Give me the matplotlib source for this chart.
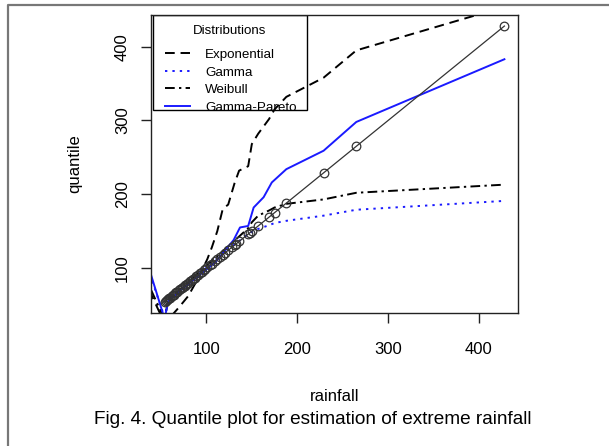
import numpy as np
import matplotlib.pyplot as plt
from matplotlib.lines import Line2D
from matplotlib.patches import Rectangle

plt.rcParams['font.family'] = ['Liberation Sans', 'DejaVu Sans']

# observed annual maximum rainfall (sorted) -- plotted against itself
rainfall = [54, 55, 57, 58, 59, 60, 62, 63, 64, 66, 67, 68, 70, 71, 73, 74,
            76, 77, 79, 80, 82, 84, 85, 87, 89, 91, 93, 95, 97, 99, 101, 104,
            106, 109, 112, 115, 118, 121, 124, 128, 131, 133, 136, 146, 148,
            150, 157, 169, 175, 188, 229, 265, 428]

# fitted quantiles
exp_x = [30, 54, 60, 70, 80, 90, 101, 106, 112, 118, 124, 131, 136, 146,
         150, 157, 169, 175, 188, 229, 265, 428]
exp_y = [89, 25, 33, 47, 62, 84, 112, 128, 150, 180, 186, 215, 232, 238,
         268, 282, 302, 315, 332, 358, 395, 454]

gam_x = [30, 54, 58, 70, 90, 110, 130, 146, 150, 157, 169, 175, 188, 229, 265, 428]
gam_y = [120, 33, 56, 69, 90, 111, 131, 146, 149, 153, 158, 161, 164, 171, 179, 191]

wei_x = [30, 54, 58, 70, 90, 110, 130, 146, 150, 157, 169, 175, 188, 229, 265, 428]
wei_y = [95, 30, 57, 70, 92, 114, 136, 154, 162, 171, 178, 182, 187, 193, 202, 213]

gp_x = [30, 54, 58, 70, 90, 110, 130, 137, 146, 152, 163, 172, 188, 229, 265, 428]
gp_y = [127, 31, 55, 68, 88, 108, 138, 155, 157, 182, 196, 216, 234, 259, 298, 383]

labels = ['Exponential', 'Gamma', 'Weibull', 'Gamma-Pareto']
xticks = [100, 200, 300, 400]
yticks = [100, 200, 300, 400]


def r_limits(v):
    # like R: data range padded by 4% on each side
    lo, hi = min(v), max(v)
    ext = 0.04 * (hi - lo)
    return lo - ext, hi + ext


W, H = 609, 446
fig = plt.figure(figsize=(W / 100, H / 100), dpi=100)
ax = fig.add_axes([151 / W, 1 - 313 / H, 367 / W, 298 / H])
aw, ah = 367, 298   # axes size in px, used for placing the legend


def ax_xy(px, py):
    return (px - 151) / aw, (313 - py) / ah


ax.plot(rainfall, rainfall, color='#333333', lw=0.9, marker='o', ms=6.2,
        mfc='none', mec='#333333', mew=0.9, zorder=3)

l_exp, = ax.plot(exp_x, exp_y, color='black', lw=1.4)
l_exp.set_dashes([5, 3])
l_gam, = ax.plot(gam_x, gam_y, color='#1a1aff', lw=1.4)
l_gam.set_dashes([1.2, 2.6])
l_wei, = ax.plot(wei_x, wei_y, color='black', lw=1.4)
l_wei.set_dashes([5, 2.2, 1.2, 2.2])
l_gp, = ax.plot(gp_x, gp_y, color='#1a1aff', lw=1.4)

ax.set_xlim(r_limits(rainfall))
ax.set_ylim(r_limits(rainfall))
ax.set_xticks(xticks)
ax.set_yticks(yticks)
ax.set_yticklabels([str(t) for t in yticks], rotation=90, va='center')
ax.tick_params(axis='both', length=7.2, width=1.0, labelsize=12, color='#222222')
ax.tick_params(axis='x', pad=14)
ax.tick_params(axis='y', pad=8)
for s in ax.spines.values():
    s.set_linewidth(1.0)
    s.set_color('#222222')

ax.set_xlabel('rainfall', fontsize=12)
ax.xaxis.label.set_va('baseline')
ax.xaxis.set_label_coords(0.5, -(401 - 313) / ah)
ax.set_ylabel('quantile', fontsize=12)
ax.yaxis.label.set_va('center')
ax.yaxis.set_label_coords((75 - 151) / aw, 0.5)

# legend drawn under the lines, as R does when legend() comes first
x0, y0 = ax_xy(153, 110)
ax.add_patch(Rectangle((x0, y0), 154 / aw, 95 / ah, transform=ax.transAxes,
                       facecolor='white', edgecolor='black', lw=1.0, zorder=1))
tx, ty = ax_xy(230, 31)
ax.text(tx, ty, 'Distributions', transform=ax.transAxes, fontsize=9.6,
        ha='center', va='center', zorder=1.5)
leg = ax.legend([l_exp, l_gam, l_wei, l_gp], labels, loc='upper left',
                bbox_to_anchor=ax_xy(165, 48.5), borderaxespad=0, borderpad=0,
                fontsize=9.6, frameon=False, handlelength=1.9,
                handletextpad=1.1, labelspacing=0.4)
leg.set_zorder(1.5)

fig.text(313 / W, 1 - 424 / H,
         'Fig. 4. Quantile plot for estimation of extreme rainfall',
         fontsize=13.7, ha='center', va='baseline')

# grey page frame (left and top edges only)
fig.add_artist(Line2D([8 / W, 8 / W, 1.0], [0.0, 1 - 5 / H, 1 - 5 / H],
                      transform=fig.transFigure, color='#777777', lw=1.6))

fig.savefig('out.png', dpi=100)
